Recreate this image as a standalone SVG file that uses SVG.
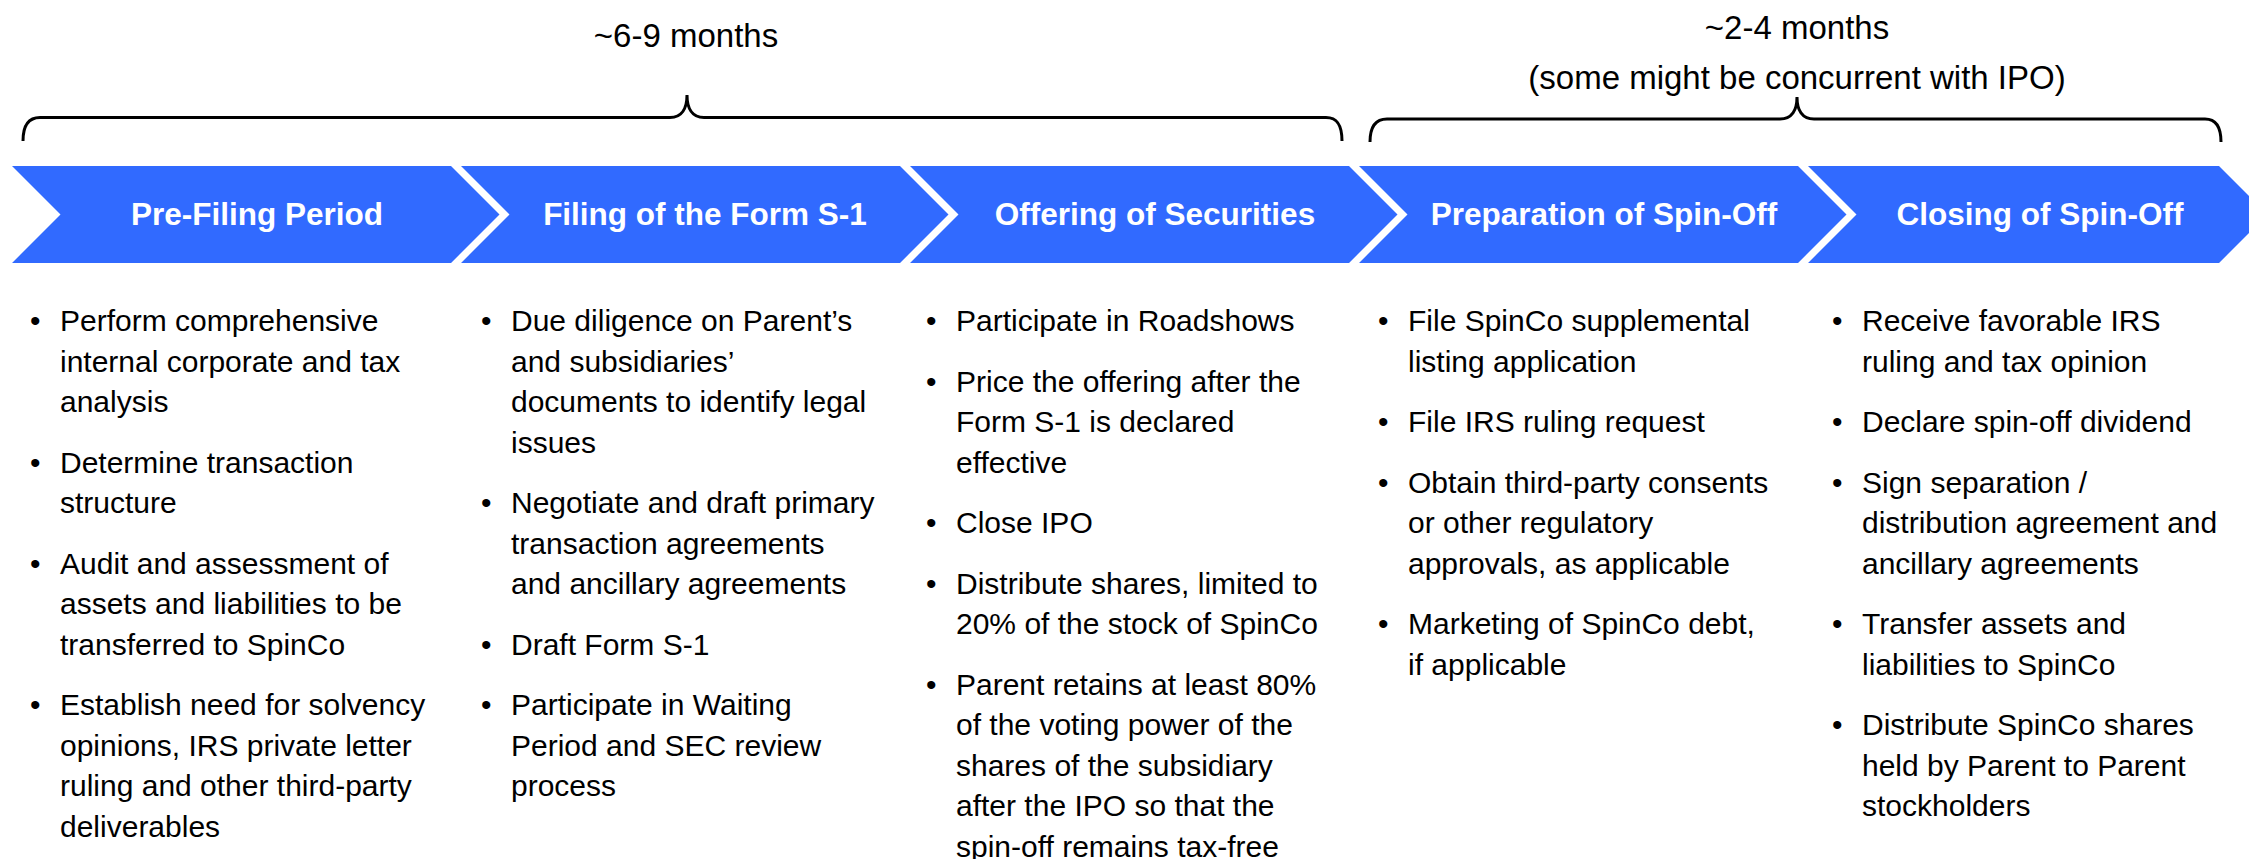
<svg xmlns="http://www.w3.org/2000/svg" width="2249" height="859" viewBox="0 0 2249 859">
<style>
.chev{fill:#316AFF}
.title{font-family:"Liberation Sans",Arial,sans-serif;font-weight:bold;font-size:31.5px;fill:#FFFFFF;text-anchor:middle}
.body{font-family:"Liberation Sans",Arial,sans-serif;font-size:30px;fill:#000000}
.lbl{font-family:"Liberation Sans",Arial,sans-serif;font-size:33px;fill:#000000;text-anchor:middle}
.brace{fill:none;stroke:#000000;stroke-width:3;stroke-linecap:butt}
</style>
<rect width="2249" height="859" fill="#FFFFFF"/>

<g id="brace-ipo">
<path class="brace" d="M23,141 C23,126 28,117.5 40,117.5 L670,117.5 C682,117.5 687,108 687,95 C687,108 692,117.5 704,117.5 L1326,117.5 C1338,117.5 1342,126 1342,141"/>
<text class="lbl" x="686" y="47">~6-9 months</text>
</g>

<g id="brace-spinoff">
<path class="brace" d="M1370,142 C1370,128 1375,119 1387,119 L1780,119 C1792,119 1797,110 1797,97 C1797,110 1802,119 1814,119 L2205,119 C2217,119 2221,128 2221,142"/>
<text class="lbl" x="1797" y="39">~2-4 months</text>
<text class="lbl" x="1797" y="89">(some might be concurrent with IPO)</text>
</g>

<g id="pre-filing">
<polygon class="chev" points="12,166 451,166 499.5,214.5 451,263 12,263 60.5,214.5"/>
<text class="title" x="257" y="225">Pre-Filing Period</text>
<text class="body">
<tspan x="30" y="331">•</tspan><tspan x="60" y="331">Perform comprehensive</tspan>
<tspan x="60" y="371.5">internal corporate and tax</tspan>
<tspan x="60" y="412">analysis</tspan>
<tspan x="30" y="472.5">•</tspan><tspan x="60" y="472.5">Determine transaction</tspan>
<tspan x="60" y="513">structure</tspan>
<tspan x="30" y="573.5">•</tspan><tspan x="60" y="573.5">Audit and assessment of</tspan>
<tspan x="60" y="614">assets and liabilities to be</tspan>
<tspan x="60" y="654.5">transferred to SpinCo</tspan>
<tspan x="30" y="715">•</tspan><tspan x="60" y="715">Establish need for solvency</tspan>
<tspan x="60" y="755.5">opinions, IRS private letter</tspan>
<tspan x="60" y="796">ruling and other third-party</tspan>
<tspan x="60" y="836.5">deliverables</tspan>
</text>
</g>

<g id="filing-s1">
<polygon class="chev" points="461,166 900,166 948.5,214.5 900,263 461,263 509.5,214.5"/>
<text class="title" x="705" y="225">Filing of the Form S-1</text>
<text class="body">
<tspan x="481" y="331">•</tspan><tspan x="511" y="331">Due diligence on Parent’s</tspan>
<tspan x="511" y="371.5">and subsidiaries’</tspan>
<tspan x="511" y="412">documents to identify legal</tspan>
<tspan x="511" y="452.5">issues</tspan>
<tspan x="481" y="513">•</tspan><tspan x="511" y="513">Negotiate and draft primary</tspan>
<tspan x="511" y="553.5">transaction agreements</tspan>
<tspan x="511" y="594">and ancillary agreements</tspan>
<tspan x="481" y="654.5">•</tspan><tspan x="511" y="654.5">Draft Form S-1</tspan>
<tspan x="481" y="715">•</tspan><tspan x="511" y="715">Participate in Waiting</tspan>
<tspan x="511" y="755.5">Period and SEC review</tspan>
<tspan x="511" y="796">process</tspan>
</text>
</g>

<g id="offering">
<polygon class="chev" points="910,166 1349,166 1397.5,214.5 1349,263 910,263 958.5,214.5"/>
<text class="title" x="1155" y="225">Offering of Securities</text>
<text class="body">
<tspan x="926" y="331">•</tspan><tspan x="956" y="331">Participate in Roadshows</tspan>
<tspan x="926" y="391.5">•</tspan><tspan x="956" y="391.5">Price the offering after the</tspan>
<tspan x="956" y="432">Form S-1 is declared</tspan>
<tspan x="956" y="472.5">effective</tspan>
<tspan x="926" y="533">•</tspan><tspan x="956" y="533">Close IPO</tspan>
<tspan x="926" y="593.5">•</tspan><tspan x="956" y="593.5">Distribute shares, limited to</tspan>
<tspan x="956" y="634">20% of the stock of SpinCo</tspan>
<tspan x="926" y="694.5">•</tspan><tspan x="956" y="694.5">Parent retains at least 80%</tspan>
<tspan x="956" y="735">of the voting power of the</tspan>
<tspan x="956" y="775.5">shares of the subsidiary</tspan>
<tspan x="956" y="816">after the IPO so that the</tspan>
<tspan x="956" y="856.5">spin-off remains tax-free</tspan>
</text>
</g>

<g id="preparation">
<polygon class="chev" points="1359,166 1798,166 1846.5,214.5 1798,263 1359,263 1407.5,214.5"/>
<text class="title" x="1604" y="225">Preparation of Spin-Off</text>
<text class="body">
<tspan x="1378" y="331">•</tspan><tspan x="1408" y="331">File SpinCo supplemental</tspan>
<tspan x="1408" y="371.5">listing application</tspan>
<tspan x="1378" y="432">•</tspan><tspan x="1408" y="432">File IRS ruling request</tspan>
<tspan x="1378" y="492.5">•</tspan><tspan x="1408" y="492.5">Obtain third-party consents</tspan>
<tspan x="1408" y="533">or other regulatory</tspan>
<tspan x="1408" y="573.5">approvals, as applicable</tspan>
<tspan x="1378" y="634">•</tspan><tspan x="1408" y="634">Marketing of SpinCo debt,</tspan>
<tspan x="1408" y="674.5">if applicable</tspan>
</text>
</g>

<g id="closing">
<polygon class="chev" points="1808,166 2219,166 2267.5,214.5 2219,263 1808,263 1856.5,214.5"/>
<text class="title" x="2040" y="225">Closing of Spin-Off</text>
<text class="body">
<tspan x="1832" y="331">•</tspan><tspan x="1862" y="331">Receive favorable IRS</tspan>
<tspan x="1862" y="371.5">ruling and tax opinion</tspan>
<tspan x="1832" y="432">•</tspan><tspan x="1862" y="432">Declare spin-off dividend</tspan>
<tspan x="1832" y="492.5">•</tspan><tspan x="1862" y="492.5">Sign separation /</tspan>
<tspan x="1862" y="533">distribution agreement and</tspan>
<tspan x="1862" y="573.5">ancillary agreements</tspan>
<tspan x="1832" y="634">•</tspan><tspan x="1862" y="634">Transfer assets and</tspan>
<tspan x="1862" y="674.5">liabilities to SpinCo</tspan>
<tspan x="1832" y="735">•</tspan><tspan x="1862" y="735">Distribute SpinCo shares</tspan>
<tspan x="1862" y="775.5">held by Parent to Parent</tspan>
<tspan x="1862" y="816">stockholders</tspan>
</text>
</g>

<g id="connectors"></g>
</svg>
